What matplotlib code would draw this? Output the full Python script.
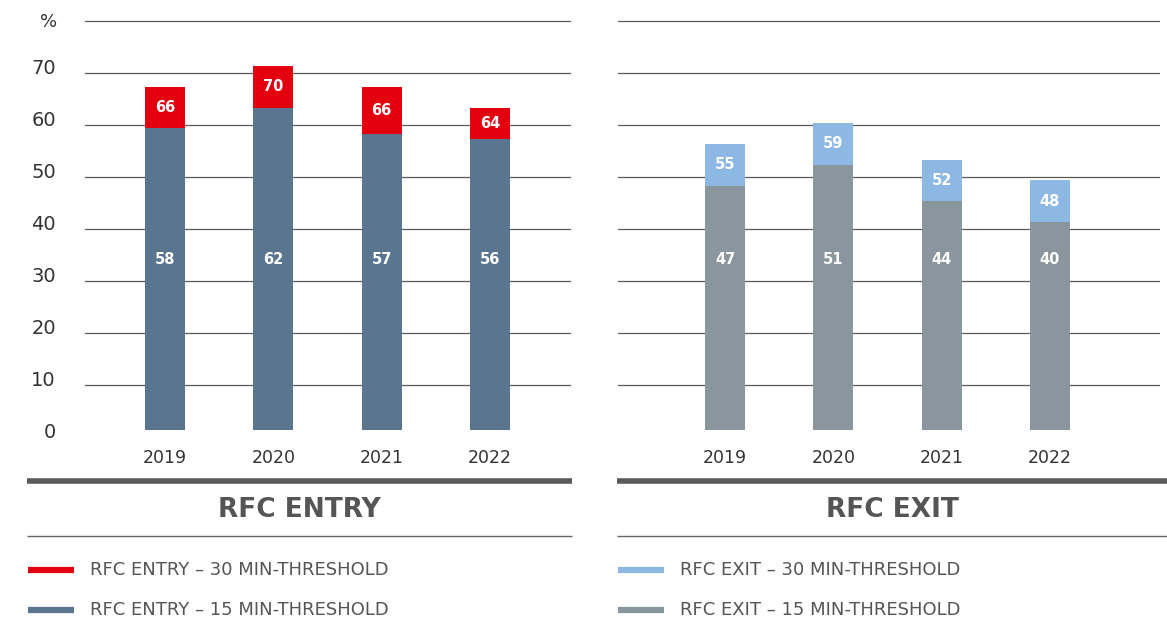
import matplotlib
matplotlib.use("Agg")
import matplotlib.pyplot as plt
import numpy as np

plt.rcParams['font.family'] = ['DejaVu Sans']

# dane
years = ["2019", "2020", "2021", "2022"]
entry_15 = [58, 62, 57, 56]
entry_30 = [66, 70, 66, 64]
entry_30_bar = [66, 70, 66, 62]   # wysokość słupka (2022 niższy niż etykieta)
exit_15 = [47, 51, 44, 40]
exit_30 = [55, 59, 52, 48]
y_ticks = [0, 10, 20, 30, 40, 50, 60, 70]

RED = "#E3000F"
BLUE_GREY = "#5A7590"
LIGHT_BLUE = "#8DB8E3"
GREY = "#8A969E"
GRID = "#5a5a5a"
TXT = "#333333"
TITLE = "#555555"

W, H = 1167, 623
fig = plt.figure(figsize=(W / 100, H / 100), dpi=100)

px_per_unit = 5.2
ymax = (430 - 15) / px_per_unit
grid_shift = 1.35   # linie siatki lekko pod etykietami


def px_axes(x0, x1, y0, y1):
    # y0 = górna krawędź w pikselach, y1 = dolna
    return fig.add_axes([x0 / W, 1 - y1 / H, (x1 - x0) / W, (y1 - y0) / H])


def draw_panel(ax, low, high, high_bar, c_low, c_high, xlim, show_labels):
    x = np.arange(len(years))
    ax.set_xlim(*xlim)
    ax.set_ylim(0, ymax)
    for k in range(1, 9):
        ax.axhline(10 * k - grid_shift, color=GRID, lw=0.9, zorder=1)
    bw = 40 / 108.3
    ax.bar(x, low, width=bw, color=c_low, zorder=3)
    ax.bar(x, np.array(high_bar) - np.array(low), bottom=low, width=bw, color=c_high, zorder=3)
    for i in range(len(years)):
        ax.text(x[i], 32.7, str(low[i]), ha="center", va="center",
                color="white", fontsize=10.5, fontweight="bold", zorder=4)
        ax.text(x[i], (low[i] + high_bar[i]) / 2, str(high[i]), ha="center", va="center",
                color="white", fontsize=10.5, fontweight="bold", zorder=4)
    ax.set_xticks(x)
    ax.set_xticklabels(years, fontsize=12.5, color=TXT)
    ax.tick_params(axis="x", length=0, pad=14)
    if show_labels:
        ax.set_yticks(y_ticks)
        ax.set_yticklabels([str(v) for v in y_ticks], fontsize=14, color=TXT)
        ax.tick_params(axis="y", length=0, pad=21)
        ax.text(-0.058, 78.4, "%", transform=ax.get_yaxis_transform(), ha="right",
                va="center", fontsize=13, color=TXT)
    else:
        ax.set_yticks([])
    for s in ax.spines.values():
        s.set_visible(False)
    ax.patch.set_alpha(0)


ax1 = px_axes(85, 571, 15, 430)
draw_panel(ax1, entry_15, entry_30, entry_30_bar, BLUE_GREY, RED,
           ((85 - 165) / 108.3, (571 - 165) / 108.3), True)

ax2 = px_axes(618, 1160, 15, 430)
draw_panel(ax2, exit_15, exit_30, exit_30, GREY, LIGHT_BLUE,
           ((618 - 725) / 108.3, (1160 - 725) / 108.3), False)

# nagłówki paneli i legenda
ov = fig.add_axes([0, 0, 1, 1])
ov.set_xlim(0, W)
ov.set_ylim(H, 0)
ov.axis("off")
ov.patch.set_alpha(0)

panels = [
    (27, 572, "RFC ENTRY", [("RFC ENTRY \u2013 30 MIN-THRESHOLD", RED),
                            ("RFC ENTRY \u2013 15 MIN-THRESHOLD", BLUE_GREY)]),
    (617, 1167, "RFC EXIT", [("RFC EXIT \u2013 30 MIN-THRESHOLD", LIGHT_BLUE),
                             ("RFC EXIT \u2013 15 MIN-THRESHOLD", GREY)]),
]
for x0, x1, title, items in panels:
    ov.plot([x0, x1], [480.5, 480.5], color="#5a5a5a", lw=4, solid_capstyle="butt")
    ov.plot([x0, x1], [536, 536], color="#666666", lw=1, solid_capstyle="butt")
    ov.text((x0 + x1) / 2, 510, title, ha="center", va="center",
            fontsize=19, fontweight="bold", color=TITLE)
    for j, (lab, col) in enumerate(items):
        yy = 570 + 40 * j
        ov.plot([x0 + 1, x0 + 47], [yy, yy], color=col, lw=4.5, solid_capstyle="butt")
        ov.text(x0 + 63, yy, lab, ha="left", va="center", fontsize=13, color=TITLE)

fig.savefig("out.png", dpi=100)
